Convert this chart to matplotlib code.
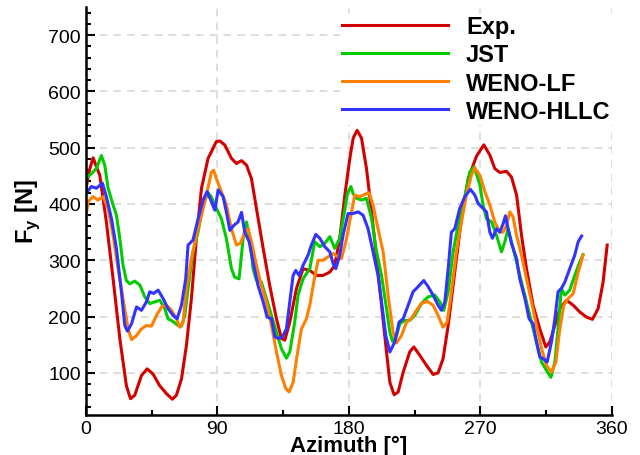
import numpy as np
import matplotlib
matplotlib.use("Agg")
import matplotlib.pyplot as plt
from matplotlib.ticker import MultipleLocator

plt.rcParams["font.family"] = ["Liberation Sans", "DejaVu Sans"]
plt.rcParams["mathtext.fontset"] = "custom"
plt.rcParams["mathtext.rm"] = "Liberation Sans"
plt.rcParams["mathtext.bf"] = "Liberation Sans:bold"

# experiment
exp_az = [0, 2.5, 5, 9.6, 14.1, 18.7, 23.3, 27.8, 30.6, 33.5, 38.1, 42, 46, 50.6, 55.2,
          59.3, 62, 65.5, 68.9, 72.3, 75.7, 79.2, 83.7, 89.4, 91.7, 95.1, 99.7, 103.1,
          106.6, 110, 113.4, 116.8, 121.4, 125.9, 130.5, 133.9, 136.2, 139.6, 144.2,
          148.7, 153.3, 157.9, 162.4, 167, 170.4, 173.8, 177.3, 180.7, 183, 185.7, 188.7,
          192.1, 195.6, 199, 202.4, 205.8, 208.1, 211, 213.8, 217.2, 221.7, 224.5, 228.6,
          233.2, 237.7, 241.1, 244.5, 248, 252.5, 257.1, 261.7, 267.4, 272.4, 276.5,
          279.9, 283.3, 287.9, 291.3, 294.8, 298.2, 301.6, 306.1, 310.7, 314.8, 317.6,
          321, 324.4, 329, 333.6, 338.1, 342.7, 346.7, 350.6, 354, 356.8]
exp_fy = [425, 460, 482, 451, 368, 267, 161, 77, 54, 60, 95, 107, 98, 77, 63,
          53, 60, 89, 149, 232, 339, 428, 481, 511, 512, 505, 481, 472,
          477, 469, 445, 392, 321, 255, 196, 161, 158, 190, 250,
          285, 282, 273, 273, 279, 291, 339, 416, 481, 517, 531, 517,
          463, 386, 303, 220, 137, 83, 61, 66, 101, 137, 146, 131,
          113, 97, 100, 125, 184, 279, 374, 445, 485, 505, 487,
          463, 456, 458, 448, 416, 344, 285, 220, 178, 146, 155,
          184, 214, 229, 220, 208, 199, 195, 214, 261, 327]

# JST
jst_az = [0, 3.9, 7.3, 10.7, 13, 15.3, 18.7, 21, 23.3, 25.5, 27.8, 30.1, 33.5, 37, 40.4,
          43.8, 47.2, 50.6, 54.1, 56.3, 59.8, 63.2, 65.5, 67.8, 70, 73.4, 76.9, 80.3,
          83.7, 86, 89.4, 92.8, 96.2, 99.7, 101.9, 104.9, 107.7, 110, 112.2, 114.5,
          116.8, 120.2, 123.6, 127.1, 130.5, 133.9, 137.3, 139.6, 143, 145.3, 148.7,
          153.3, 156.7, 160.2, 163.6, 167, 170.4, 173.8, 177.3, 179, 181.4, 183, 185.3,
          188.7, 192.1, 195.6, 199, 202.4, 205.8, 208.1, 209.9, 212.7, 214.9, 218.3,
          221.7, 225.2, 229.7, 234.3, 238.9, 242.3, 245, 248, 251.4, 254.8, 258.2,
          262.8, 265.8, 269.7, 271.9, 274.2, 277.7, 281.1, 284.5, 286.8, 289, 291.3,
          294.8, 298.2, 301.6, 305, 308.4, 311.9, 315.3, 318.3, 321, 323.2, 325.5,
          327.8, 331.2, 334.6, 338.1, 340.3]
jst_fy = [445, 454, 463, 486, 469, 428, 398, 380, 339, 291, 264, 258, 263, 256, 235,
          223, 226, 229, 214, 196, 191, 184, 183, 202, 250, 315, 351, 398,
          420, 412, 392, 374, 339, 285, 270, 267, 339, 368, 339, 285,
          264, 261, 232, 202, 172, 143, 126, 137, 190, 238, 267,
          285, 333, 324, 330, 342, 321, 339, 390, 418, 431, 418, 410,
          407, 410, 374, 315, 273, 214, 172, 156, 166, 187, 193,
          193, 202, 223, 235, 238, 226, 211, 244, 315, 362, 398,
          457, 466, 434, 398, 374, 368, 344, 315, 333, 356, 333,
          297, 261, 226, 190, 155, 119, 104, 92, 119, 178, 250,
          238, 247, 273, 297, 310]

# WENO-LF
lf_az = [0, 1.6, 5, 8.4, 11.8, 15.3, 18.7, 22.1, 25.5, 29, 31.3, 34.7, 38.1, 41.5, 45,
         48.4, 51.8, 55.2, 58.7, 62.1, 64.3, 66.6, 68.9, 72.3, 75.7, 79.2, 82.6, 86,
         87.5, 89.4, 92.8, 96.2, 99.7, 103.1, 105.8, 108.8, 111.1, 113.4, 116.8, 120.2,
         123.6, 127.1, 130.5, 133.9, 136.9, 139.1, 141.9, 144.6, 147.6, 151, 153.3, 156,
         159, 162.4, 165.8, 169.3, 172.7, 175, 178, 180.7, 184.1, 187.5, 190.9, 193.9,
         196.6, 200, 203.5, 206.9, 210.3, 212.6, 216, 219.5, 222.9, 226.3, 229.7, 233.6,
         237.7, 241.1, 244.5, 247.3, 250.2, 253.6, 257.1, 260.5, 263.9, 266.2, 269.7,
         273.1, 276.5, 279.9, 283.3, 285.6, 287.9, 290.2, 292.4, 294.8, 298.2, 301.6,
         305, 308.4, 311.9, 315.3, 318.7, 321.7, 324.4, 327.1, 330.1, 333.6, 337, 340.3]
lf_fy = [375, 404, 413, 407, 413, 392, 344, 285, 232, 178, 159, 166, 178, 184, 183,
         202, 217, 220, 211, 196, 181, 190, 250, 303, 344, 380, 416, 457,
         460, 445, 422, 398, 356, 327, 330, 350, 356, 333, 291, 255,
         226, 184, 137, 95, 72, 66, 83, 131, 178, 196, 220, 261,
         300, 300, 306, 312, 306, 303, 333, 370, 416, 413, 417, 420,
         398, 356, 315, 238, 172, 153, 166, 190, 197, 211, 223, 227,
         220, 202, 181, 190, 244, 315, 368, 416, 451, 464, 451,
         422, 398, 368, 350, 350, 362, 386, 377, 344, 309, 267,
         226, 184, 143, 113, 101, 119, 178, 220, 232, 241, 279, 309]

# WENO-HLLC
hllc_az = [0, 3.9, 7.3, 11.4, 14.1, 17.6, 21, 24.4, 26.7, 28.5, 31.3, 34.7, 38.1, 41.5,
           43.8, 46.5, 49.5, 52.9, 56.3, 59.8, 62.5, 65.5, 68.4, 70, 73.4, 76.9, 80.3,
           83, 86, 88.3, 90.6, 94, 96.2, 98.6, 101.3, 104.2, 106.6, 108.8, 111.8, 114.5,
           117.9, 121.4, 124.1, 127.1, 129.4, 131.6, 134.6, 137.3, 139.6, 141.9, 143.7,
           146, 148.7, 152.1, 154.4, 157.4, 160.2, 163.6, 167, 169.3, 171.1, 173.8, 176.1,
           179.5, 183, 186.4, 189.8, 193.2, 196.6, 200, 202.4, 205.3, 208.1, 211.5, 214.4,
           217.2, 220.6, 224, 227.4, 231.3, 234.3, 237.7, 241.1, 243.4, 245.7, 248, 250.2,
           252.5, 255.9, 259.4, 263.2, 266.2, 268.5, 270.8, 274.2, 276.5, 278.3, 281.1,
           283.3, 285.6, 287.2, 289, 291.3, 294.8, 297, 300.5, 303.4, 306.1, 308.4, 310.7,
           313, 315.7, 318.7, 321, 323.2, 325.5, 327.8, 331.2, 334.6, 337, 339.3]
hllc_fy = [419, 431, 428, 437, 413, 374, 321, 244, 184, 174, 187, 217, 211, 226,
           244, 241, 247, 232, 214, 202, 196, 220, 267, 327, 336, 374, 407,
           422, 404, 389, 425, 413, 386, 353, 362, 368, 385, 350, 333, 297,
           255, 226, 199, 196, 164, 161, 164, 178, 226, 273, 282,
           273, 291, 309, 327, 346, 339, 324, 315, 294, 285, 309, 345,
           383, 383, 386, 380, 356, 315, 273, 226, 166, 137, 155, 190,
           196, 220, 244, 253, 264, 253, 238, 220, 211, 226, 285, 350,
           356, 392, 413, 426, 416, 401, 395, 386, 350, 339, 356,
           350, 365, 379, 356, 330, 303, 267, 232, 196, 187, 155, 128,
           125, 119, 155, 196, 244, 250, 261, 285, 309, 333, 343]

series = [
    ("Exp.", exp_az, exp_fy, "#d40000"),
    ("JST", jst_az, jst_fy, "#00cc00"),
    ("WENO-LF", lf_az, lf_fy, "#ff8000"),
    ("WENO-HLLC", hllc_az, hllc_fy, "#3333ff"),
]

fig = plt.figure(figsize=(6.4, 4.56), dpi=100)
ax = fig.add_axes([0.134, 0.0877, 0.822, 0.8947])

for name, az, fy, c in series:
    ax.plot(az, fy, color=c, lw=2.2, label=name)

ax.set_xlim(0, 360)
ax.set_ylim(25, 750)
ax.xaxis.set_major_locator(MultipleLocator(90))
ax.xaxis.set_minor_locator(MultipleLocator(45))
ax.set_yticks([100, 200, 300, 400, 500, 600, 700])
ax.yaxis.set_minor_locator(MultipleLocator(20))

ax.grid(True, which="major", color="#d4d4d4", lw=1.1, ls=(0, (5, 4)))
ax.set_axisbelow(True)

for s in ["top", "right"]:
    ax.spines[s].set_visible(False)
for s in ["left", "bottom"]:
    ax.spines[s].set_linewidth(1.8)

ax.tick_params(which="both", direction="in", width=1.5, labelsize=14)
ax.tick_params(which="major", length=6.5)
ax.tick_params(which="minor", length=3.5)

ax.set_xlabel("Azimuth [°]", fontsize=16, fontweight="bold", labelpad=-1.5)
ax.set_ylabel(r"F$_\mathregular{y}$ [N]", fontsize=17, fontweight="bold", labelpad=4.5)

leg = ax.legend(loc="upper left", bbox_to_anchor=(328 / 640, 1 - 2 / 456),
                bbox_transform=fig.transFigure, frameon=True, fancybox=False,
                facecolor="white", edgecolor="none", framealpha=1,
                prop={"weight": "bold", "size": 17}, handlelength=4.5,
                handletextpad=0.75, labelspacing=0.22, borderpad=0.1)

fig.savefig("out.png", dpi=100)
